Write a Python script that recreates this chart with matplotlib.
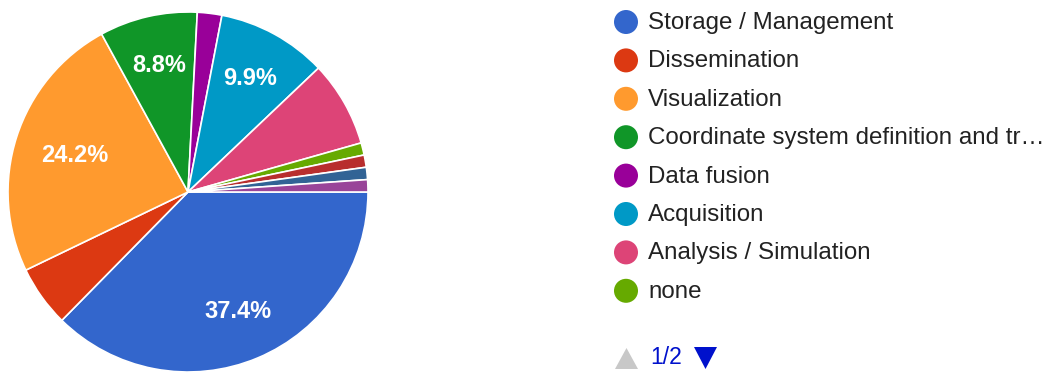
import matplotlib
matplotlib.use("Agg")
import matplotlib.pyplot as plt
from matplotlib.patches import Circle, Polygon

W, H = 1045, 374

# Response counts, clockwise from 3 o'clock (legend page 1 lists the first eight)
legend_labels = [
    "Storage / Management",
    "Dissemination",
    "Visualization",
    "Coordinate system definition and tr\u2026",
    "Data fusion",
    "Acquisition",
    "Analysis / Simulation",
    "none",
]
counts = [34, 5, 22, 8, 2, 9, 7, 1, 1, 1, 1]
colors = ["#3366cc", "#dc3912", "#ff9a2e", "#109628", "#990099", "#0099c6",
          "#dd4477", "#66aa00", "#b82e2e", "#316395", "#994499"]
page_text = "1/2"

FONT = ["Liberation Sans", "DejaVu Sans"]
plt.rcParams["font.family"] = FONT

fig = plt.figure(figsize=(W / 100, H / 100), dpi=100)
fig.patch.set_facecolor("white")

# Pie axes: centre (188, 192) px, radius 180 px
cx, cy, r = 188, 192, 180
ax = fig.add_axes([(cx - r) / W, (H - cy - r) / H, 2 * r / W, 2 * r / H])
ax.set_aspect("equal")

def pct_label(p):
    return f"{p:.1f}%" if p >= 8 else ""

wedges, texts, autotexts = ax.pie(
    counts, colors=colors, startangle=0, counterclock=False,
    autopct=pct_label, pctdistance=0.72,
    wedgeprops=dict(edgecolor="white", linewidth=1.2),
    textprops=dict(color="white", fontsize=17, fontweight="bold"),
)
# Visualization label sits a little closer to the centre
px, py = autotexts[2].get_position()
autotexts[2].set_position((px * 0.92, py * 0.92))
ax.set_xlim(-1, 1)
ax.set_ylim(-1, 1)
ax.axis("off")

# Legend in pixel coordinates
lg = fig.add_axes([0, 0, 1, 1])
lg.set_xlim(0, W)
lg.set_ylim(H, 0)
lg.axis("off")
y0, dy = 22, 38.4
for i, lab in enumerate(legend_labels):
    y = y0 + i * dy
    lg.add_patch(Circle((626, y), 12, color=colors[i], lw=0))
    lg.text(648, y + 1, lab, fontsize=17.4, color="#222222", va="center", ha="left")

yn = 358
lg.add_patch(Polygon([[615, yn + 11], [638, yn + 11], [626.5, yn - 10]],
                     closed=True, color="#c8c8c8", lw=0))
lg.text(650, yn, page_text, fontsize=16.5, color="#0011cc", va="center", ha="left")
lg.add_patch(Polygon([[694, yn - 11], [717, yn - 11], [705.5, yn + 11]],
                     closed=True, color="#0011cc", lw=0))

fig.savefig("out.png", dpi=100, facecolor="white")
